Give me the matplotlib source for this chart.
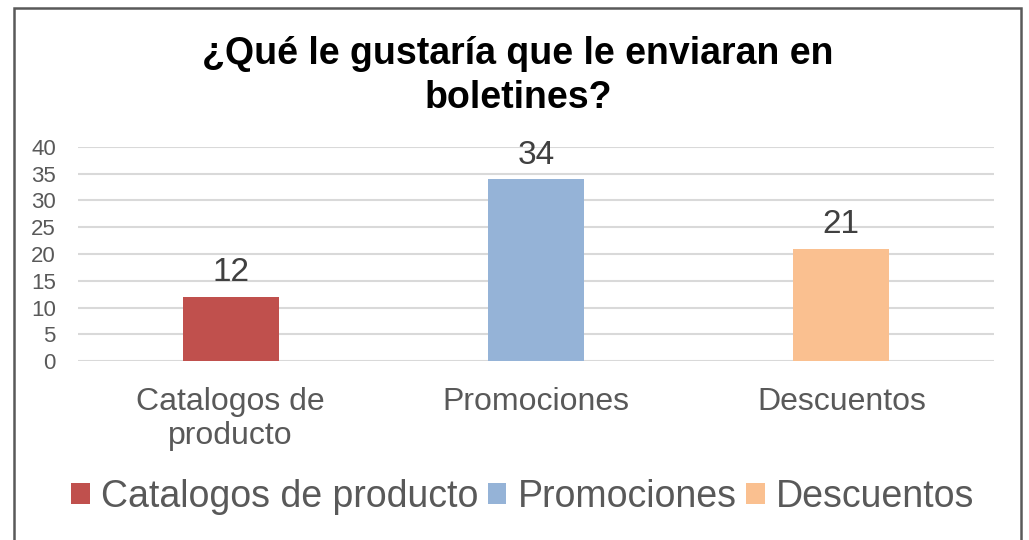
import matplotlib
matplotlib.use("Agg")
import matplotlib.pyplot as plt
from matplotlib.patches import Patch, Rectangle

categories = ["Catalogos de producto", "Promociones", "Descuentos"]
tick_labels = ["Catalogos de\nproducto", "Promociones", "Descuentos"]
values = [12, 34, 21]
colors = ["#C0504D", "#95B3D7", "#FAC090"]
yticks = [0, 5, 10, 15, 20, 25, 30, 35, 40]

plt.rcParams['font.family'] = ['Liberation Sans', 'DejaVu Sans']

fig = plt.figure(figsize=(10.29, 5.4), dpi=100)
ax = fig.add_axes([78 / 1029, 1 - 361 / 540, 916 / 1029, 214 / 540])

x = range(len(categories))
bars = ax.bar(x, values, width=0.315, color=colors, zorder=3)

for xi, v in zip(x, values):
    ax.annotate(str(v), (xi, v), xytext=(0, 6), textcoords="offset points",
                ha="center", va="bottom", fontsize=24, color="#404040")

ax.set_xlim(-0.5, 2.5)
ax.set_ylim(0, 40)
ax.set_yticks(yticks)
ax.set_xticks(list(x))
ax.set_xticklabels(tick_labels, fontsize=23, color="#595959", linespacing=1.14)
ax.tick_params(axis="y", length=0, pad=16, labelsize=16, labelcolor="#595959")
ax.tick_params(axis="x", length=0, pad=19)
ax.grid(axis="y", color="#D9D9D9", linewidth=1.5, zorder=0)
for s in ax.spines.values():
    s.set_visible(False)

fig.text(518 / 1029, 1 - 76 / 540, "¿Qué le gustaría que le enviaran en\nboletines?",
         ha="center", va="center", fontsize=27, fontweight="bold", color="black",
         linespacing=1.3)

handles = [Patch(facecolor=c, label=l) for c, l in zip(colors, categories)]
fig.legend(handles=handles, loc="center", bbox_to_anchor=(0.508, 1 - 497 / 540), ncol=3,
           frameon=False, fontsize=27, handlelength=0.5, handleheight=0.5,
           handletextpad=0.3, columnspacing=0.25, labelcolor="#595959")

fig.patches.append(Rectangle((13.5 / 1029, -0.05), (1021 - 13.5) / 1029, 1.05 - 8 / 540,
                             transform=fig.transFigure, fill=False,
                             edgecolor="#595959", linewidth=1.8, clip_on=False))

fig.savefig("out.png", dpi=100)
